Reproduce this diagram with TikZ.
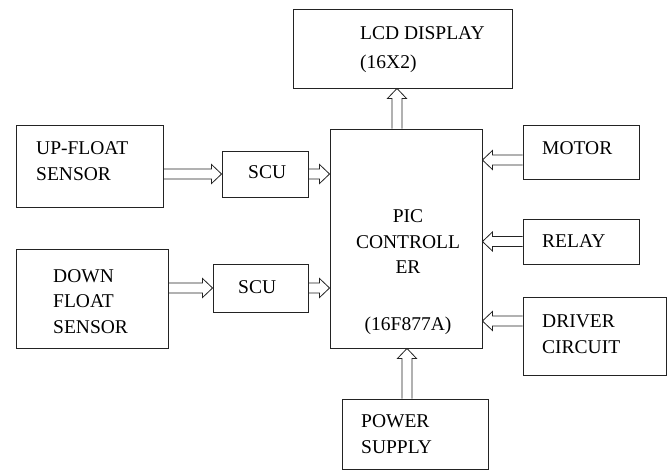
\documentclass[tikz,border=0pt]{standalone}
\usepackage{fontspec}
\setmainfont{Liberation Serif}
\usepackage{xcolor}
\usetikzlibrary{calc}
\definecolor{lineblack}{RGB}{35,35,35}

\tikzset{
  blk/.style={draw=lineblack, line width=0.9pt, inner sep=0pt},
  lbl/.style={anchor=base west, inner sep=0pt, align=left, font=\fontsize{19.5}{25.5}\selectfont},
  fatarrow/.style={draw=lineblack, line width=0.8pt, to path={
    ($(\tikztostart)!5pt!90:(\tikztotarget)$) --
    ($(\tikztotarget)!10pt!(\tikztostart)!5pt!90:(\tikztotarget)$) --
    ($(\tikztotarget)!10pt!(\tikztostart)!9.5pt!90:(\tikztotarget)$) --
    (\tikztotarget) --
    ($(\tikztotarget)!10pt!(\tikztostart)!9.5pt!-90:(\tikztotarget)$) --
    ($(\tikztotarget)!10pt!(\tikztostart)!5pt!-90:(\tikztotarget)$) --
    ($(\tikztostart)!5pt!-90:(\tikztotarget)$)}}
}

\begin{document}
\begin{tikzpicture}[x=1pt,y=-1pt]
    \useasboundingbox (0,0) rectangle (667,472);

    % Sensors
    \node[blk, minimum width=147pt, minimum height=82pt] (up) at (89.5,166) {};
    \node[blk, minimum width=152pt, minimum height=99pt] (down) at (92,298.5) {};

    % SCU
    \node[blk, minimum width=86pt, minimum height=46pt] (scua) at (265,174) {};
    \node[blk, minimum width=95pt, minimum height=48pt] (scub) at (260.5,288) {};

    % Controller
    \node[blk, minimum width=152pt, minimum height=219pt] (pic) at (406,238.5) {};

    % LCD
    \node[blk, minimum width=219pt, minimum height=79pt] (lcd) at (402.5,48.5) {};

    % Outputs
    \node[blk, minimum width=116pt, minimum height=54pt] (motor) at (581,152) {};
    \node[blk, minimum width=116pt, minimum height=45pt] (relay) at (581,241.5) {};
    \node[blk, minimum width=143pt, minimum height=78pt] (driver) at (594.5,336) {};

    % Power supply
    \node[blk, minimum width=146pt, minimum height=70pt] (power) at (415,434) {};

    % Arrows
    \draw[fatarrow] (up.east |- scua.west) to (scua.west);
    \draw[fatarrow] (scua.east) to (scua.east -| pic.west);
    \draw[fatarrow] (down.east |- scub.west) to (scub.west);
    \draw[fatarrow] (scub.east) to (scub.east -| pic.west);
    \draw[fatarrow] ([xshift=-9pt]pic.north) to ([xshift=-5.5pt]lcd.south);
    \draw[fatarrow] ([yshift=-8pt]motor.west) to ([yshift=-8pt]motor.west -| pic.east);
    \draw[fatarrow] (relay.west) to (relay.west -| pic.east);
    \draw[fatarrow] ([yshift=15pt]driver.west) to ([yshift=15pt]driver.west -| pic.east);
    \draw[fatarrow] ([xshift=1pt]pic.south |- power.north) to ([xshift=1pt]pic.south);

    % Labels (base = last line)
    \node[lbl] (uptxt) at (36,180) {UP-FLOAT\\SENSOR};
    \node[lbl] (downtxt) at (53,333) {DOWN\\FLOAT\\SENSOR};
    \node[lbl] (scuatxt) at (248,178) {SCU};
    \node[lbl] (scubtxt) at (238,293) {SCU};
    \node[lbl, anchor=base, align=center] (pictxt) at (408,330) {PIC\\CONTROLL\\ER\\[31pt](16F877A)};
    \node[lbl] (lcdtxt) at (360,68) {LCD DISPLAY\\[3.5pt](16X2)};
    \node[lbl] (motortxt) at (542,154) {MOTOR};
    \node[lbl] (relaytxt) at (542,247) {RELAY};
    \node[lbl] (drivertxt) at (542,353) {DRIVER\\CIRCUIT};
    \node[lbl] (powertxt) at (361,453) {POWER\\SUPPLY};
\end{tikzpicture}
\end{document}
